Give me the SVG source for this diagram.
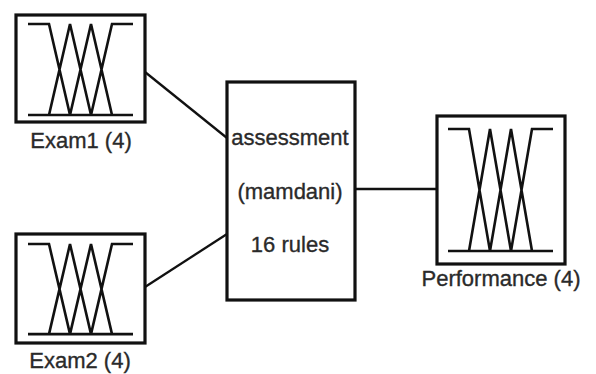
<svg xmlns="http://www.w3.org/2000/svg" width="596" height="374" viewBox="0 0 596 374">
<style>
.box{fill:#fff;stroke:#111;stroke-width:3.2}
.mf{fill:none;stroke:#111;stroke-width:2.6;stroke-linejoin:miter}
.conn{fill:none;stroke:#111;stroke-width:2.3}
text{font-family:"Liberation Sans",Arial,sans-serif;font-size:22px;fill:#2a2a2a;stroke:#2a2a2a;stroke-width:0.35;text-anchor:middle}
</style>
<defs>
<g id="mfs">
<path class="mf" d="M0,0 H21 L42,91 M21,91 L42,0 L63,91 M42,91 L63,0 L84,91 M63,91 L84,0 H105 M0,91 H105"/>
</g>
</defs>
<rect width="596" height="374" fill="#fff"/>
<g id="connectors">
<line class="conn" x1="145" y1="72" x2="227" y2="138"/>
<line class="conn" x1="145" y1="287" x2="227" y2="234"/>
<line class="conn" x1="355" y1="189" x2="437" y2="189"/>
</g>
<g id="exam1">
<rect class="box" x="16" y="15" width="129" height="107"/>
<use href="#mfs" transform="translate(28,24)"/>
<text x="81" y="148">Exam1 (4)</text>
</g>
<g id="exam2">
<rect class="box" x="16" y="234" width="129" height="109"/>
<use href="#mfs" transform="translate(28,244) scale(1,0.99)"/>
<text x="80" y="368">Exam2 (4)</text>
</g>
<g id="assessment">
<rect class="box" x="227" y="82" width="128" height="218"/>
<text x="290" y="145">assessment</text>
<text x="290" y="199">(mamdani)</text>
<text x="290" y="252">16 rules</text>
</g>
<g id="performance">
<rect class="box" x="437" y="116" width="128" height="148"/>
<path class="mf" d="M448,129 H469 L490,251 M469,251 L490,129 L511,251 M490,251 L511,129 L532,251 M511,251 L532,129 H553 M448,251 H553"/>
<text x="501" y="286">Performance (4)</text>
</g>
</svg>
